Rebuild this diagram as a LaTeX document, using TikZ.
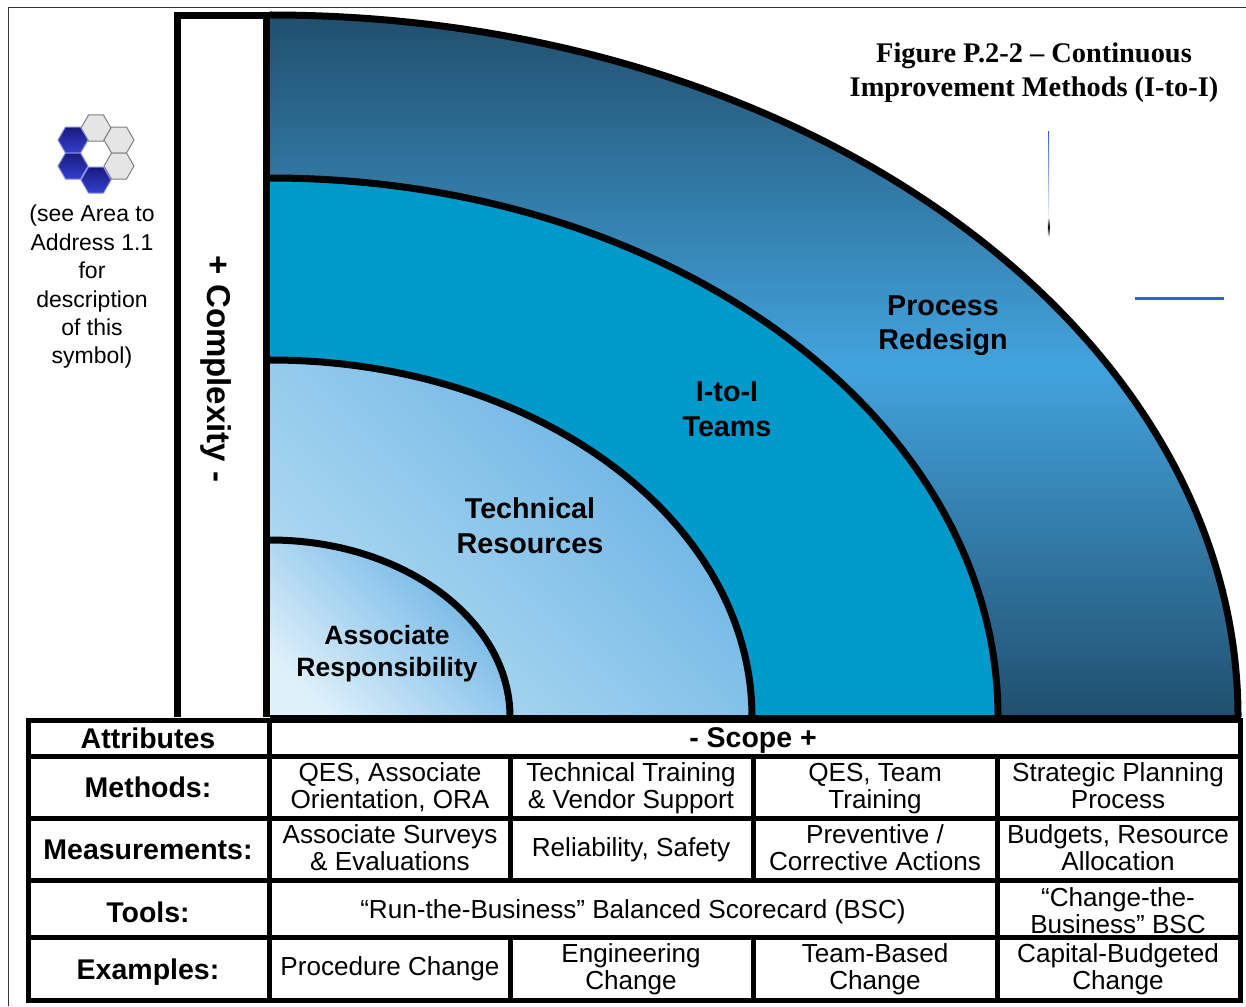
\documentclass[tikz,border=0pt]{standalone}
\usepackage{fontspec}
\setmainfont{Liberation Sans}
\newfontfamily\titlefont{Liberation Serif}
\definecolor{DeepClr}{rgb}{0.13,0.31,0.43}
\definecolor{SkyClr}{rgb}{0.26,0.64,0.87}
\definecolor{TeamClr}{rgb}{0,0.6,0.8}
\definecolor{PaleClr}{rgb}{0.87,0.94,0.98}
\definecolor{SoftClr}{rgb}{0.70,0.86,0.95}
\definecolor{MidClr}{rgb}{0.40,0.69,0.89}
\definecolor{HexClr}{rgb}{0.9,0.9,0.9}
\definecolor{NavyClr}{rgb}{0.1,0.1,0.5}
\definecolor{RoyalClr}{rgb}{0.2,0.25,0.8}
\definecolor{StrayClr}{rgb}{0.22,0.39,0.78}
\tikzset{
  heavy/.style={line width=5pt,color=black},
  arcline/.style={line width=7pt,color=black},
  cell/.style={inner sep=0pt,align=center,font=\fontsize{26.1}{27}\selectfont},
  head/.style={inner sep=0pt,align=center,font=\fontsize{28.5}{27}\selectfont\bfseries},
  band/.style={inner sep=0pt,align=center,font=\fontsize{28.7}{34.5}\selectfont\bfseries},
  greyhex/.style={fill=HexClr,draw=gray,line width=1pt},
  bluehex/.style={top color=NavyClr,bottom color=RoyalClr,draw=RoyalClr!60,line width=1pt},
}
\newcommand{\hexpath}[2]{(#1,#2) ++(15,0) -- ++(-7.5,13) -- ++(-15,0) -- ++(-7.5,-13) -- ++(7.5,-13) -- ++(15,0) -- cycle}
\begin{document}
\begin{tikzpicture}[x=1pt,y=-1pt]
\useasboundingbox (0,0) rectangle (1246,1006);

% Outer frame of the page.
\draw[line width=1pt,color=black!80] (8.5,1006) -- (8.5,7.5) -- (1246,7.5);

% The four bands, outermost first.
\shade[top color=DeepClr,bottom color=DeepClr,middle color=SkyClr] (270,717) -- (270,15) arc[start angle=-90,end angle=0,x radius=968,y radius=702] -- cycle;
\fill[TeamClr] (270,717) -- (270,178) arc[start angle=-90,end angle=0,x radius=728,y radius=539] -- cycle;
\shade[left color=SoftClr,right color=MidClr,shading angle=135] (270,717) -- (270,360) arc[start angle=-90,end angle=0,x radius=482,y radius=357] -- cycle;
\shade[left color=PaleClr,right color=MidClr,shading angle=135] (270,717) -- (270,540) arc[start angle=-90,end angle=0,x radius=240,y radius=177] -- cycle;

\draw[arcline] (270,15) arc[start angle=-90,end angle=0,x radius=968,y radius=702];
\draw[arcline] (270,178) arc[start angle=-90,end angle=0,x radius=728,y radius=539];
\draw[arcline] (270,360) arc[start angle=-90,end angle=0,x radius=482,y radius=357];
\draw[arcline] (270,540) arc[start angle=-90,end angle=0,x radius=240,y radius=177];
\draw[heavy] (270,717.5) -- (1241,717.5);

% Complexity bar.
\draw[arcline,fill=white] (177.5,717) -- (177.5,15.5) -- (266.5,15.5) -- (266.5,717);
\node[inner sep=0pt,rotate=-90,font=\fontsize{33}{33}\selectfont\bfseries] (complexity) at (216,369) {+ Complexity -};

% Symbol and its note.
\foreach \hx/\hy in {96/128,119/140,119/166}
  \draw[greyhex] \hexpath{\hx}{\hy};
\foreach \hx/\hy in {73/140,73/166,96/180}
  \draw[bluehex] \hexpath{\hx}{\hy};
\node[inner sep=0pt,align=center,font=\fontsize{23}{28.4}\selectfont] (note) at (92,287) {(see Area to\\Address 1.1\\for\\description\\of this\\symbol)};

% Title.
\node[inner sep=0pt,align=center,font=\titlefont\fontsize{28.4}{34}\selectfont\bfseries] (title) at (1034,73) {Figure P.2-2 – Continuous\\Improvement Methods (I-to-I)};

% Stray marks right of the title.
\shade[top color=StrayClr,bottom color=StrayClr!10] (1048,131) rectangle (1049.2,217);
\shade[top color=white,bottom color=white,middle color=black] (1047.8,217) rectangle (1049.4,237);
\coordinate (strayL) at (1135,298);
\coordinate (strayR) at (1224,298);
\draw[line width=3pt,StrayClr] (strayL) -- (strayR);

% Band labels.
\node[band] (process) at (943,325.5) {Process\\Redesign};
\node[band] (teams) at (727,409.5) {I-to-I\\Teams};
\node[band] (technical) at (530,525.5) {Technical\\Resources};
\node[band,font=\fontsize{26.5}{32}\selectfont\bfseries] (associate) at (387,654) {Associate\\Responsibility};

% Table rules.
\draw[heavy,fill=white] (28,720.5) rectangle (1240,1000);
\foreach \ry in {756,818,880,937}
  \draw[heavy] (28,\ry) -- (1240,\ry);
\draw[heavy] (269,720) -- (269,1000);
\draw[heavy] (997,756) -- (997,1000);
\foreach \cx in {510,753}{
  \draw[heavy] (\cx,756) -- (\cx,880);
  \draw[heavy] (\cx,937) -- (\cx,1000);
}

% Table text.
\node[head] (attr) at (148,738) {Attributes};
\node[head] (scope) at (753,740) {- Scope +};
\node[head] (methods) at (148,787) {Methods:};
\node[head] (measure) at (148,850) {Measurements:};
\node[head] (tools) at (148,912) {Tools:};
\node[head] (examples) at (148,972) {Examples:};

\node[cell] (mA) at (390,787) {QES, Associate\\Orientation, ORA};
\node[cell] (mB) at (631,788) {Technical Training\\\& Vendor Support};
\node[cell] (mC) at (875,788.5) {QES, Team\\Training};
\node[cell] (mD) at (1118,786) {Strategic Planning\\Process};
\node[cell] (sA) at (390,848) {Associate Surveys\\\& Evaluations};
\node[cell] (sB) at (631,850) {Reliability, Safety};
\node[cell] (sC) at (875,848) {Preventive /\\Corrective Actions};
\node[cell] (sD) at (1118,848) {Budgets, Resource\\Allocation};
\node[cell] (tA) at (633,912) {“Run-the-Business” Balanced Scorecard (BSC)};
\node[cell] (tB) at (1118,911) {“Change-the-\\Business” BSC};
\node[cell] (eA) at (390,969) {Procedure Change};
\node[cell] (eB) at (631,969) {Engineering\\Change};
\node[cell] (eC) at (875,969) {Team-Based\\Change};
\node[cell] (eD) at (1118,969) {Capital-Budgeted\\Change};
\end{tikzpicture}
\end{document}
